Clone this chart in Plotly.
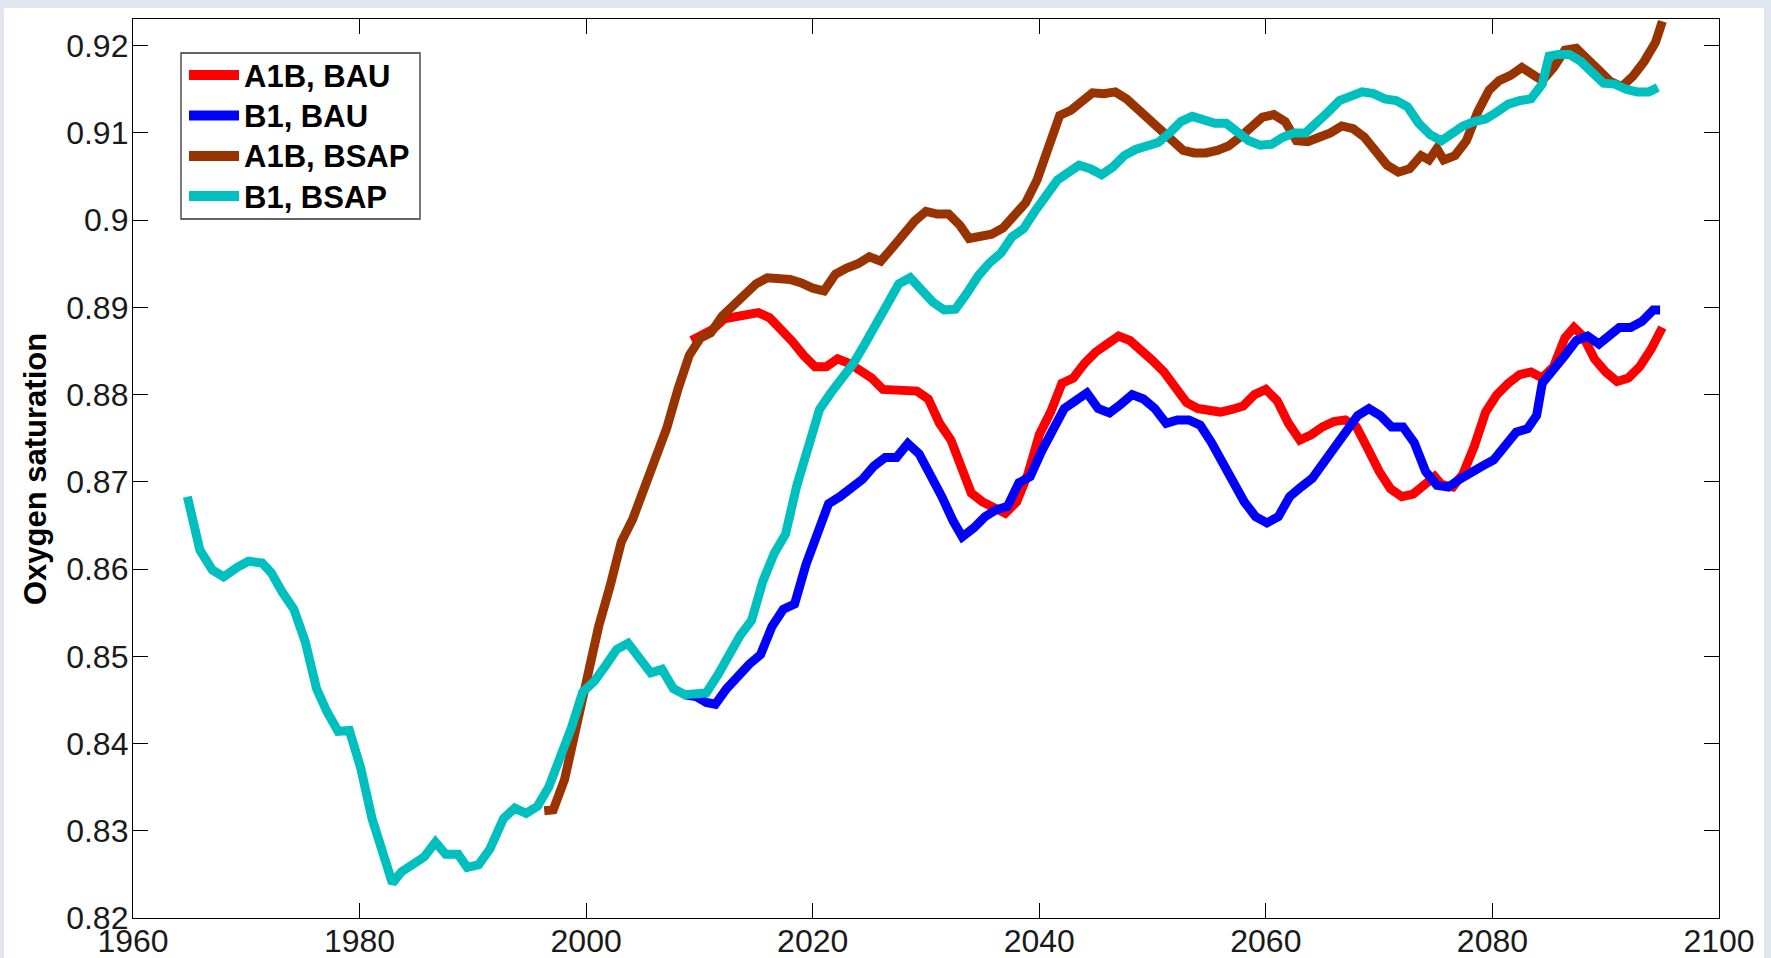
import plotly.graph_objects as go

# A1B, BAU
red_years = [2009.3, 2010.2, 2011.2, 2012.2, 2013.2, 2014.2, 2015.2, 2016.2, 2017.2, 2018.2,
             2019.2, 2020.2, 2021.2, 2022.2, 2023.2, 2024.2, 2025.2, 2026.2, 2027.2, 2028.2,
             2029.2, 2030.2, 2031.2, 2032.2, 2033.2, 2034.0, 2035.0, 2036.0, 2037.0, 2038.0,
             2039.0, 2040.0, 2041.0, 2042.0, 2043.0, 2044.0, 2045.0, 2046.0, 2047.0, 2048.0,
             2049.0, 2050.0, 2051.0, 2052.0, 2053.0, 2054.0, 2055.0, 2056.0, 2057.0, 2058.0,
             2059.0, 2060.0, 2061.0, 2062.0, 2063.0, 2064.0, 2065.0, 2066.0, 2067.0, 2068.0,
             2069.0, 2070.0, 2071.0, 2072.0, 2073.0, 2074.0, 2074.9, 2075.5, 2076.5, 2077.4,
             2078.4, 2079.4, 2080.4, 2081.4, 2082.4, 2083.4, 2084.4, 2085.4, 2086.4, 2087.2,
             2088.0, 2089.0, 2090.0, 2091.0, 2092.0, 2093.0, 2094.0, 2095.0]
red_vals = [0.8862, 0.8868, 0.8875, 0.8887, 0.8889, 0.8890, 0.8894, 0.8888, 0.8875, 0.8861,
            0.8845, 0.8832, 0.8832, 0.8841, 0.8836, 0.8828, 0.8819, 0.8806, 0.8805, 0.8806,
            0.8804, 0.8795, 0.8767, 0.8748, 0.8716, 0.8687, 0.8677, 0.8670, 0.8664, 0.8677,
            0.8709, 0.8754, 0.8780, 0.8813, 0.8819, 0.8836, 0.8849, 0.8858, 0.8867, 0.8862,
            0.8852, 0.8839, 0.8826, 0.8809, 0.8791, 0.8784, 0.8782, 0.8780, 0.8783, 0.8787,
            0.8800, 0.8806, 0.8793, 0.8767, 0.8748, 0.8754, 0.8763, 0.8769, 0.8771, 0.8763,
            0.8738, 0.8712, 0.8692, 0.8683, 0.8686, 0.8697, 0.8706, 0.8697, 0.8694, 0.8709,
            0.8741, 0.8780, 0.8800, 0.8813, 0.8823, 0.8826, 0.8819, 0.8832, 0.8865, 0.8877,
            0.8867, 0.8841, 0.8826, 0.8815, 0.8819, 0.8832, 0.8852, 0.8877]

# B1, BAU
blue_years = [2008.7, 2009.7, 2010.6, 2011.4, 2012.4, 2013.4, 2014.4, 2015.4, 2016.4, 2017.4,
              2018.4, 2019.4, 2020.4, 2021.4, 2022.4, 2023.4, 2024.4, 2025.4, 2026.4, 2027.4,
              2028.4, 2029.4, 2030.4, 2031.4, 2032.4, 2033.2, 2034.2, 2035.2, 2036.2, 2037.2,
              2038.2, 2039.2, 2040.2, 2041.2, 2042.2, 2043.2, 2044.2, 2045.2, 2046.2, 2047.2,
              2048.2, 2049.2, 2050.2, 2051.2, 2052.2, 2053.2, 2054.2, 2055.2, 2056.2, 2057.2,
              2058.1, 2059.1, 2060.1, 2061.1, 2062.1, 2063.1, 2064.1, 2065.1, 2066.1, 2067.1,
              2068.1, 2069.1, 2070.1, 2071.1, 2072.1, 2073.1, 2074.1, 2075.1, 2076.1, 2077.1,
              2078.1, 2079.1, 2080.1, 2081.1, 2082.1, 2083.1, 2083.9, 2084.4, 2085.4, 2086.4,
              2087.4, 2088.4, 2089.4, 2090.2, 2091.2, 2092.2, 2093.2, 2094.2, 2094.8]
blue_vals = [0.8456, 0.8454, 0.8447, 0.8445, 0.8463, 0.8478, 0.8491, 0.8502, 0.8534, 0.8554,
             0.8560, 0.8605, 0.8644, 0.8675, 0.8683, 0.8692, 0.8703, 0.8718, 0.8728, 0.8728,
             0.8744, 0.8732, 0.8709, 0.8683, 0.8655, 0.8637, 0.8647, 0.8660, 0.8668, 0.8672,
             0.8699, 0.8706, 0.8735, 0.8761, 0.8784, 0.8793, 0.8802, 0.8784, 0.8779, 0.8789,
             0.8800, 0.8795, 0.8784, 0.8767, 0.8771, 0.8771, 0.8765, 0.8745, 0.8722, 0.8699,
             0.8677, 0.8660, 0.8653, 0.8660, 0.8683, 0.8694, 0.8704, 0.8722, 0.8741, 0.8761,
             0.8776, 0.8784, 0.8776, 0.8763, 0.8763, 0.8745, 0.8712, 0.8696, 0.8694, 0.8703,
             0.8712, 0.8718, 0.8725, 0.8741, 0.8757, 0.8761, 0.8776, 0.8813, 0.8828, 0.8845,
             0.8862, 0.8867, 0.8858, 0.8867, 0.8877, 0.8877, 0.8884, 0.8897, 0.8897]

# A1B, BSAP
brown_years = [1996.3, 1997.1, 1998.1, 1999.1, 2000.1, 2001.1, 2002.1, 2003.1, 2004.1, 2005.1,
               2006.1, 2007.1, 2008.1, 2009.1, 2010.1, 2011.0, 2012.0, 2013.0, 2014.0, 2015.0,
               2016.0, 2017.0, 2018.0, 2019.0, 2020.0, 2021.0, 2022.0, 2023.0, 2024.0, 2025.0,
               2026.0, 2027.0, 2028.0, 2029.0, 2030.0, 2031.0, 2032.0, 2033.0, 2033.8, 2034.8,
               2035.8, 2036.8, 2037.8, 2038.8, 2039.8, 2040.8, 2041.8, 2042.8, 2043.8, 2044.7,
               2045.7, 2046.7, 2047.7, 2048.7, 2049.7, 2050.7, 2051.7, 2052.7, 2053.7, 2054.7,
               2055.7, 2056.7, 2057.7, 2058.7, 2059.7, 2060.7, 2061.7, 2062.7, 2063.7, 2064.7,
               2065.7, 2066.7, 2067.7, 2068.7, 2069.7, 2070.7, 2071.7, 2072.7, 2073.7, 2074.4,
               2075.1, 2075.7, 2076.7, 2077.7, 2078.7, 2079.7, 2080.6, 2081.6, 2082.6, 2083.4,
               2084.4, 2085.4, 2086.4, 2087.4, 2088.4, 2089.4, 2090.4, 2091.4, 2092.4, 2093.4,
               2094.4, 2095.0]
brown_vals = [0.8323, 0.8324, 0.8359, 0.8418, 0.8476, 0.8534, 0.8580, 0.8631, 0.8657, 0.8690,
              0.8722, 0.8761, 0.8806, 0.8845, 0.8865, 0.8871, 0.8890, 0.8903, 0.8914, 0.8927,
              0.8934, 0.8933, 0.8932, 0.8928, 0.8922, 0.8919, 0.8938, 0.8945, 0.8950, 0.8958,
              0.8953, 0.8968, 0.8985, 0.8999, 0.9010, 0.9007, 0.9007, 0.8994, 0.8979, 0.8981,
              0.8984, 0.8991, 0.9004, 0.9020, 0.9046, 0.9085, 0.9120, 0.9126, 0.9137, 0.9146,
              0.9145, 0.9147, 0.9139, 0.9127, 0.9115, 0.9102, 0.9089, 0.9080, 0.9077, 0.9077,
              0.9080, 0.9085, 0.9095, 0.9107, 0.9118, 0.9121, 0.9113, 0.9091, 0.9090, 0.9095,
              0.9100, 0.9108, 0.9105, 0.9095, 0.9078, 0.9063, 0.9055, 0.9059, 0.9074, 0.9069,
              0.9082, 0.9069, 0.9074, 0.9091, 0.9124, 0.9149, 0.9160, 0.9166, 0.9175, 0.9169,
              0.9160, 0.9175, 0.9195, 0.9197, 0.9186, 0.9172, 0.9159, 0.9153, 0.9165, 0.9182,
              0.9204, 0.9228]

# B1, BSAP (includes the hindcast period)
cyan_years = [1964.8, 1965.9, 1967.0, 1968.0, 1969.2, 1970.2, 1971.4, 1972.2, 1973.2, 1974.2,
              1975.2, 1976.2, 1977.1, 1978.1, 1979.1, 1980.1, 1981.1, 1982.1, 1982.9, 1983.7,
              1984.7, 1985.7, 1986.7, 1987.6, 1988.7, 1989.5, 1990.5, 1991.5, 1992.7, 1993.7,
              1994.7, 1995.7, 1996.7, 1997.7, 1998.7, 1999.7, 2000.7, 2001.7, 2002.7, 2003.7,
              2004.7, 2005.7, 2006.7, 2007.7, 2008.7, 2009.7, 2010.6, 2011.6, 2012.6, 2013.6,
              2014.6, 2015.6, 2016.6, 2017.6, 2018.6, 2019.6, 2020.6, 2021.6, 2022.6, 2023.6,
              2024.6, 2025.6, 2026.6, 2027.6, 2028.6, 2029.6, 2030.6, 2031.6, 2032.6, 2033.6,
              2034.6, 2035.6, 2036.6, 2037.6, 2038.6, 2039.6, 2040.6, 2041.6, 2042.6, 2043.5,
              2044.5, 2045.5, 2046.5, 2047.5, 2048.5, 2049.5, 2050.5, 2051.5, 2052.5, 2053.5,
              2054.5, 2055.5, 2056.5, 2057.5, 2058.5, 2059.5, 2060.5, 2061.5, 2062.5, 2063.5,
              2064.5, 2065.5, 2066.5, 2067.5, 2068.5, 2069.5, 2070.5, 2071.5, 2072.5, 2073.5,
              2074.5, 2075.5, 2076.5, 2077.4, 2078.4, 2079.4, 2080.4, 2081.4, 2082.4, 2083.4,
              2084.4, 2085.0, 2085.8, 2086.8, 2087.8, 2088.8, 2089.8, 2090.8, 2091.8, 2092.8,
              2093.8, 2094.6]
cyan_vals = [0.8683, 0.8622, 0.8599, 0.8591, 0.8602, 0.8609, 0.8607, 0.8596, 0.8573, 0.8554,
             0.8517, 0.8463, 0.8437, 0.8414, 0.8415, 0.8372, 0.8314, 0.8275, 0.8240, 0.8253,
             0.8262, 0.8270, 0.8287, 0.8273, 0.8273, 0.8258, 0.8261, 0.8279, 0.8314, 0.8326,
             0.8320, 0.8328, 0.8350, 0.8381, 0.8418, 0.8459, 0.8471, 0.8489, 0.8508, 0.8515,
             0.8499, 0.8481, 0.8485, 0.8463, 0.8456, 0.8456, 0.8458, 0.8478, 0.8502, 0.8524,
             0.8541, 0.8586, 0.8618, 0.8640, 0.8696, 0.8739, 0.8783, 0.8802, 0.8819, 0.8836,
             0.8858, 0.8881, 0.8899, 0.8927, 0.8934, 0.8921, 0.8906, 0.8897, 0.8898, 0.8916,
             0.8936, 0.8951, 0.8962, 0.8981, 0.8990, 0.9010, 0.9026, 0.9046, 0.9055, 0.9063,
             0.9059, 0.9052, 0.9061, 0.9074, 0.9081, 0.9085, 0.9089, 0.9100, 0.9113, 0.9119,
             0.9115, 0.9111, 0.9111, 0.9100, 0.9091, 0.9086, 0.9087, 0.9095, 0.9100, 0.9100,
             0.9111, 0.9124, 0.9137, 0.9143, 0.9147, 0.9145, 0.9139, 0.9137, 0.9130, 0.9111,
             0.9098, 0.9091, 0.9100, 0.9108, 0.9113, 0.9116, 0.9124, 0.9133, 0.9137, 0.9139,
             0.9156, 0.9188, 0.9190, 0.9190, 0.9182, 0.9168, 0.9157, 0.9156, 0.9150, 0.9147,
             0.9147, 0.9152]

x_ticks = [1960, 1980, 2000, 2020, 2040, 2060, 2080, 2100]
y_ticks = [0.82, 0.83, 0.84, 0.85, 0.86, 0.87, 0.88, 0.89, 0.90, 0.91, 0.92]
y_tick_text = ["0.82", "0.83", "0.84", "0.85", "0.86", "0.87", "0.88", "0.89", "0.9", "0.91", "0.92"]

series_names = ["A1B, BAU", "B1, BAU", "A1B, BSAP", "B1, BSAP"]
series_colors = ["#ff0000", "#0000ff", "#993300", "#00bfbf"]
series_x = [red_years, blue_years, brown_years, cyan_years]
series_y = [red_vals, blue_vals, brown_vals, cyan_vals]

W, H = 1771, 958
ML, MR, MT, MB = 133, 52, 19, 40
PW, PH = W - ML - MR, H - MT - MB


def px_x(p):
    return (p - ML) / PW


def px_y(p):
    return 1 - (p - MT) / PH


fig = go.Figure()
for name, xs, ys, color in zip(series_names, series_x, series_y, series_colors):
    fig.add_trace(go.Scatter(
        x=xs, y=ys, mode="lines", name=name, showlegend=False,
        line=dict(color=color, width=9),
    ))

font_main = "Liberation Sans, Arial, sans-serif"
axis_common = dict(
    showline=True, linecolor="#000000", linewidth=1.3, mirror="ticks",
    ticks="inside", ticklen=15, tickwidth=1.2, tickcolor="#000000",
    showgrid=False, zeroline=False,
    tickfont=dict(family=font_main, size=32, color="#1a1a1a"),
)

# white figure panel inside the light frame
shapes = [dict(type="rect", xref="paper", yref="paper", layer="below",
               x0=px_x(4), x1=px_x(1764), y0=px_y(H + 10), y1=px_y(8),
               fillcolor="#ffffff", line=dict(width=0))]

# legend box with line samples and labels
legend_box = (181, 53, 420, 219)
legend_rows = [75, 115.5, 156, 196]
shapes.append(dict(type="rect", xref="paper", yref="paper", layer="above",
                   x0=px_x(legend_box[0]), x1=px_x(legend_box[2]),
                   y0=px_y(legend_box[3]), y1=px_y(legend_box[1]),
                   fillcolor="#ffffff", line=dict(color="#333333", width=1.3)))
annotations = []
for name, color, row in zip(series_names, series_colors, legend_rows):
    shapes.append(dict(type="line", xref="paper", yref="paper", layer="above",
                       x0=px_x(189), x1=px_x(239), y0=px_y(row), y1=px_y(row),
                       line=dict(color=color, width=10)))
    annotations.append(dict(text=f"<b>{name}</b>", xref="paper", yref="paper",
                            x=px_x(243), y=px_y(row + 1), xanchor="left", yanchor="middle",
                            showarrow=False, borderpad=0,
                            font=dict(family=font_main, size=31, color="#000000")))

annotations.append(dict(text="<b>Oxygen saturation</b>", xref="paper", yref="paper",
                        x=px_x(35), y=px_y(469), textangle=-90,
                        showarrow=False, xanchor="center", yanchor="middle",
                        font=dict(family=font_main, size=31, color="#000000")))

fig.update_layout(
    width=W, height=H,
    margin=dict(l=ML, r=MR, t=MT, b=MB, autoexpand=False),
    paper_bgcolor="#dfe6ef",
    plot_bgcolor="#ffffff",
    showlegend=False,
    xaxis=dict(range=[1960, 2100], tickvals=x_ticks, ticktext=[str(v) for v in x_ticks],
               ticklabelstandoff=-6, **axis_common),
    yaxis=dict(range=[0.82, 0.92306], tickvals=y_ticks, ticktext=y_tick_text,
               ticklabelstandoff=-3, **axis_common),
    shapes=shapes,
    annotations=annotations,
)

fig.write_html("out.html")
